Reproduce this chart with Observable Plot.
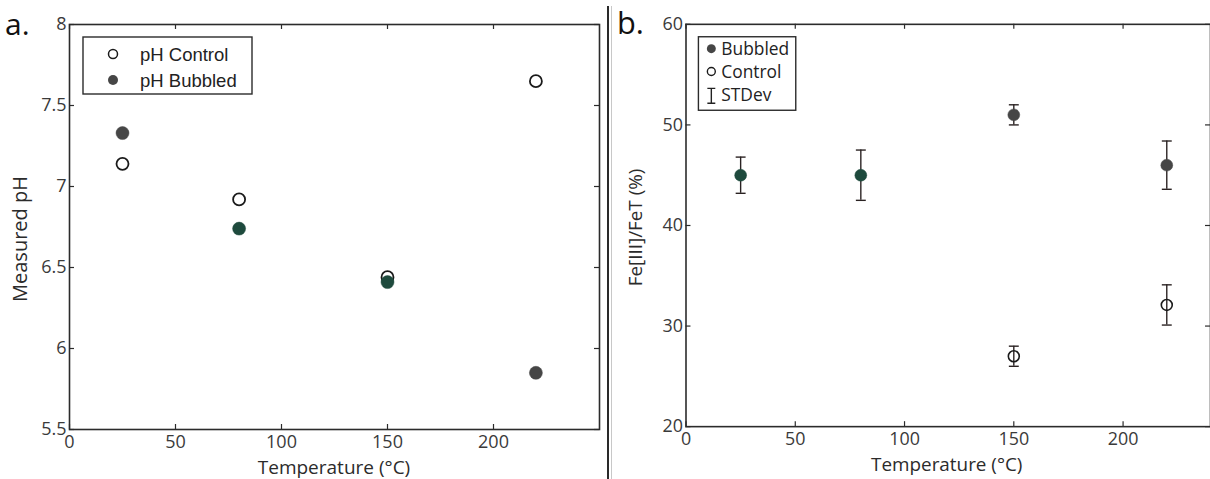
<!DOCTYPE html>
<html>
<head>
<meta charset="utf-8">
<script src="https://cdn.jsdelivr.net/npm/d3@7"></script>
<script src="https://cdn.jsdelivr.net/npm/@observablehq/plot@0.6"></script>
<style>
  html, body { margin: 0; padding: 0; background: #fff; }
  #wrap { position: relative; width: 1210px; height: 479px; overflow: hidden; background: #fff; }
  .panel { position: absolute; top: 0; }
  #sep1 { position: absolute; left: 607px; top: 6px; width: 2px; height: 473px; background: #2a2a2a; }
  #sep2 { position: absolute; left: 611px; top: 6px; width: 1px; height: 473px; background: #c8c8c8; }
</style>
</head>
<body>
<div id="wrap">
  <div id="pa" class="panel" style="left:0px"></div>
  <div id="pb" class="panel" style="left:610px"></div>
  <div id="sep1"></div>
  <div id="sep2"></div>
</div>
<script>
// ---------- Data ----------
const temps = [25, 80, 150, 220];
const phControl = [7.14, 6.92, 6.44, 7.65];
const phBubbled = [7.33, 6.74, 6.41, 5.85];

const feBubbledTemps = [25, 80, 150, 220];
const feBubbled = [45, 45, 51, 46];
const feBubbledSd = [1.8, 2.5, 1.0, 2.4];

const feControlTemps = [150, 220];
const feControl = [27, 32.1];
const feControlSd = [1.0, 2.0];

const xTicks = [0, 50, 100, 150, 200];
const phTicks = [5.5, 6, 6.5, 7, 7.5, 8];
const feTicks = [20, 30, 40, 50, 60];

// styles (kept apart from the values)
const gray = "#464646";
const green = "#1e4a3d";
const phBubbledColors = [gray, green, green, gray];
const feBubbledColors = [green, green, gray, gray];

const font = "'Open Sans', 'Noto Sans', sans-serif";
const ink = "#2b2b2b";

function addText(svg, {x, y, text, size = 19, anchor = "start", family = font, fill = ink, rotate = false}) {
  const t = svg.append("text")
    .attr("text-anchor", anchor)
    .attr("font-family", family)
    .attr("font-size", size)
    .attr("fill", fill)
    .text(text);
  if (rotate) t.attr("transform", `translate(${x},${y}) rotate(-90)`);
  else t.attr("x", x).attr("y", y);
  return t;
}

// ---------- Panel a ----------
const A = {w: 610, h: 479, ml: 69, mr: 11, mt: 24, mb: 50};
const aFrameW = A.w - A.ml - A.mr, aFrameH = A.h - A.mt - A.mb;
const ctrlA = temps.map((t, i) => ({t, v: phControl[i]}));
const bubA = temps.map((t, i) => ({t, v: phBubbled[i], c: phBubbledColors[i]}));

const plotA = Plot.plot({
  width: A.w, height: A.h,
  marginLeft: A.ml, marginRight: A.mr, marginTop: A.mt, marginBottom: A.mb,
  style: {fontFamily: font, fontSize: "18px", color: "#3a3a3a", background: "transparent"},
  x: {domain: [0, 250]},
  y: {domain: [5.5, 8]},
  marks: [
    Plot.axisX({ticks: xTicks, tickSize: 0, tickPadding: 6, label: null, fontSize: 18, tickFormat: d => String(d)}),
    Plot.axisY({ticks: phTicks, tickSize: 0, tickPadding: 3, label: null, fontSize: 18, tickFormat: d => String(d)}),
    Plot.tickX(xTicks, {x: d => d, insetTop: aFrameH - 5, stroke: ink, strokeWidth: 1.2}),
    Plot.tickX(xTicks, {x: d => d, insetBottom: aFrameH - 5, stroke: ink, strokeWidth: 1.2}),
    Plot.tickY(phTicks, {y: d => d, insetRight: aFrameW - 5, stroke: ink, strokeWidth: 1.2}),
    Plot.tickY(phTicks, {y: d => d, insetLeft: aFrameW - 5, stroke: ink, strokeWidth: 1.2}),
    Plot.frame({stroke: ink, strokeWidth: 1.6}),
    Plot.dot(ctrlA, {x: "t", y: "v", r: 6, stroke: "#1a1a1a", strokeWidth: 1.8, fill: "white"}),
    Plot.dot(bubA, {x: "t", y: "v", r: 6.5, fill: "c", stroke: "c", strokeWidth: 0.5})
  ]
});
document.getElementById("pa").appendChild(plotA);
{
  const svg = d3.select(plotA);
  addText(svg, {x: 334, y: 474, text: "Temperature (°C)", anchor: "middle"});
  addText(svg, {x: 27, y: 239, text: "Measured pH", anchor: "middle", rotate: true, size: 20});
  addText(svg, {x: 5, y: 35, text: "a.", size: 30, fill: "#111"});
  const lg = svg.append("g");
  lg.append("rect").attr("x", 83).attr("y", 37).attr("width", 169).attr("height", 57)
    .attr("fill", "white").attr("stroke", ink).attr("stroke-width", 1.4);
  lg.append("circle").attr("cx", 113).attr("cy", 54).attr("r", 4.5).attr("fill", "white").attr("stroke", "#1a1a1a").attr("stroke-width", 1.5);
  lg.append("circle").attr("cx", 113).attr("cy", 80).attr("r", 5).attr("fill", gray);
  const arial = "'Liberation Sans', Arial, sans-serif";
  addText(lg, {x: 140, y: 60.5, text: "pH Control", size: 18.5, family: arial, fill: "#222"});
  addText(lg, {x: 140, y: 86.5, text: "pH Bubbled", size: 18.5, family: arial, fill: "#222"});
}

// ---------- Panel b ----------
const B = {w: 604, h: 479, ml: 76, mr: 0, mt: 24, mb: 50};
const bFrameW = B.w - B.ml - B.mr, bFrameH = B.h - B.mt - B.mb;
const bubB = feBubbledTemps.map((t, i) => ({t, v: feBubbled[i], sd: feBubbledSd[i], c: feBubbledColors[i]}));
const ctrlB = feControlTemps.map((t, i) => ({t, v: feControl[i], sd: feControlSd[i]}));
const errs = bubB.concat(ctrlB);
const capSymbol = {draw(ctx) { ctx.moveTo(-5, 0); ctx.lineTo(5, 0); }};

const plotB = Plot.plot({
  width: B.w, height: B.h,
  marginLeft: B.ml, marginRight: B.mr, marginTop: B.mt, marginBottom: B.mb,
  style: {fontFamily: font, fontSize: "18px", color: "#3a3a3a", background: "transparent"},
  x: {domain: [0, 240]},
  y: {domain: [20, 60]},
  marks: [
    Plot.axisX({ticks: xTicks, tickSize: 0, tickPadding: 6, label: null, fontSize: 18, tickFormat: d => String(d)}),
    Plot.axisY({ticks: feTicks, tickSize: 0, tickPadding: 3, label: null, fontSize: 18, tickFormat: d => String(d)}),
    Plot.tickX(xTicks, {x: d => d, insetTop: bFrameH - 5, stroke: ink, strokeWidth: 1.2}),
    Plot.tickX(xTicks, {x: d => d, insetBottom: bFrameH - 5, stroke: ink, strokeWidth: 1.2}),
    Plot.tickY(feTicks, {y: d => d, insetRight: bFrameW - 5, stroke: ink, strokeWidth: 1.2}),
    Plot.tickY(feTicks, {y: d => d, insetLeft: bFrameW - 5, stroke: ink, strokeWidth: 1.2}),
    Plot.frame({stroke: ink, strokeWidth: 1.6}),
    Plot.ruleX(errs, {x: "t", y1: d => d.v - d.sd, y2: d => d.v + d.sd, stroke: "#2a2222", strokeWidth: 1.4}),
    Plot.dot(errs, {x: "t", y: d => d.v + d.sd, symbol: capSymbol, fill: "none", stroke: "#2a2222", strokeWidth: 1.4}),
    Plot.dot(errs, {x: "t", y: d => d.v - d.sd, symbol: capSymbol, fill: "none", stroke: "#2a2222", strokeWidth: 1.4}),
    Plot.dot(bubB, {x: "t", y: "v", r: 6, fill: "c", stroke: "c", strokeWidth: 0.5}),
    Plot.dot(ctrlB, {x: "t", y: "v", r: 5.5, fill: "none", stroke: "#1a1a1a", strokeWidth: 1.6})
  ]
});
document.getElementById("pb").appendChild(plotB);
{
  const svg = d3.select(plotB);
  addText(svg, {x: 339, y: 474, text: "Temperature (°C)", anchor: "middle"});
  addText(svg, {x: 32, y: 229, text: "Fe[III]/FeT (%)", anchor: "middle", rotate: true});
  addText(svg, {x: 7, y: 34, text: "b.", size: 31, fill: "#111"});
  const lg = svg.append("g");
  lg.append("rect").attr("x", 89).attr("y", 37).attr("width", 98).attr("height", 74)
    .attr("fill", "white").attr("stroke", ink).attr("stroke-width", 1.4);
  lg.append("circle").attr("cx", 102).attr("cy", 49).attr("r", 4.5).attr("fill", gray);
  lg.append("circle").attr("cx", 102).attr("cy", 72).attr("r", 4).attr("fill", "white").attr("stroke", "#1a1a1a").attr("stroke-width", 1.4);
  lg.append("path").attr("d", "M98,89H106M102,89V104M98,104H106").attr("stroke", "#222").attr("stroke-width", 1.4).attr("fill", "none");
  const rows = [["Bubbled", 55.5], ["Control", 78.5], ["STDev", 101.5]];
  for (const [s, y] of rows) addText(lg, {x: 112, y, text: s, size: 17.5, fill: "#222"});
}
</script>
</body>
</html>
